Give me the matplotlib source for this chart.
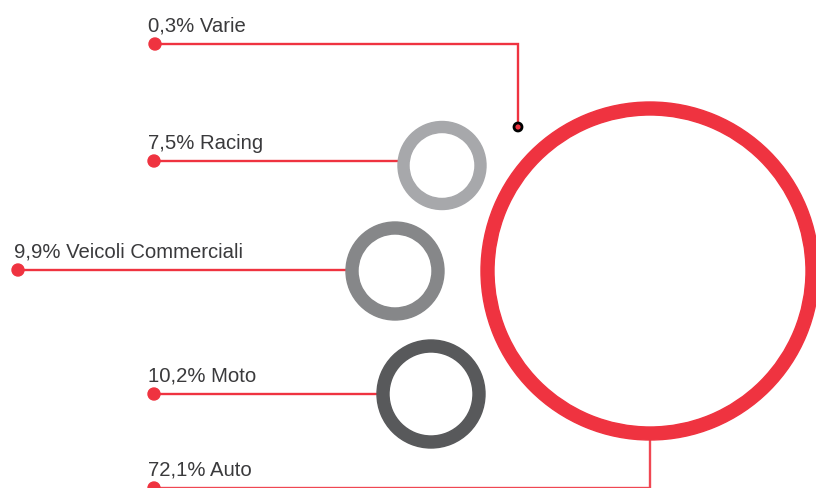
import matplotlib
matplotlib.use("Agg")
from matplotlib import pyplot as plt
from matplotlib.patches import Wedge, Circle

# data
labels = ["Varie", "Racing", "Veicoli Commerciali", "Moto", "Auto"]
shares = [0.3, 7.5, 9.9, 10.2, 72.1]

# layout (pixel coords, y down)
ring_centers = [(518, 127), (442, 165.5), (395, 271), (431, 394), (650, 271)]
ring_radii = [4, 44, 49, 54, 169]
ring_widths = [4, 11, 12, 12, 13]
ring_colors = ["#ef3340", "#a7a8ab", "#868789", "#58595b", "#ef3340"]
dot_pos = [(155, 44), (154, 161), (18, 270), (154, 394), (154, 488)]
text_x = [148, 148, 14, 148, 148]

RED = "#ef3340"
TEXT = "#3a3a3c"

fig = plt.figure(figsize=(8.16, 4.88), dpi=100)
ax = fig.add_axes([0, 0, 1, 1])
ax.set_xlim(0, 816)
ax.set_ylim(488, 0)
ax.set_aspect("equal")
ax.axis("off")

for i, lab in enumerate(labels):
    cx, cy = ring_centers[i]
    dx, dy = dot_pos[i]
    r = ring_radii[i]
    # connector line
    if lab == "Varie":
        ax.plot([dx, cx, cx], [dy, dy, cy - r], color=RED, lw=1.7, zorder=1,
                solid_joinstyle="miter")
    elif lab == "Auto":
        ax.plot([dx, cx, cx], [dy, dy, cy + r - 2], color=RED, lw=1.7, zorder=1,
                solid_joinstyle="miter", alpha=0.9)
    else:
        ax.plot([dx, cx - r + 2], [dy, dy], color=RED, lw=1.7, zorder=1)
    ax.add_patch(Circle((dx, dy), 6, color=RED, zorder=3))

    # ring
    if lab == "Varie":
        ax.add_patch(Circle((cx, cy), r, facecolor=RED, edgecolor="black",
                            lw=2.0, zorder=3))
    else:
        ax.add_patch(Wedge((cx, cy), r, 0, 360, width=ring_widths[i],
                           color=ring_colors[i], zorder=2))

    ax.text(text_x[i], dy - 12, f"{shares[i]:.1f}".replace(".", ",") + "% " + lab,
            fontsize=14.6, color=TEXT, family="Liberation Sans",
            ha="left", va="baseline")

fig.savefig("out.png", dpi=100)
